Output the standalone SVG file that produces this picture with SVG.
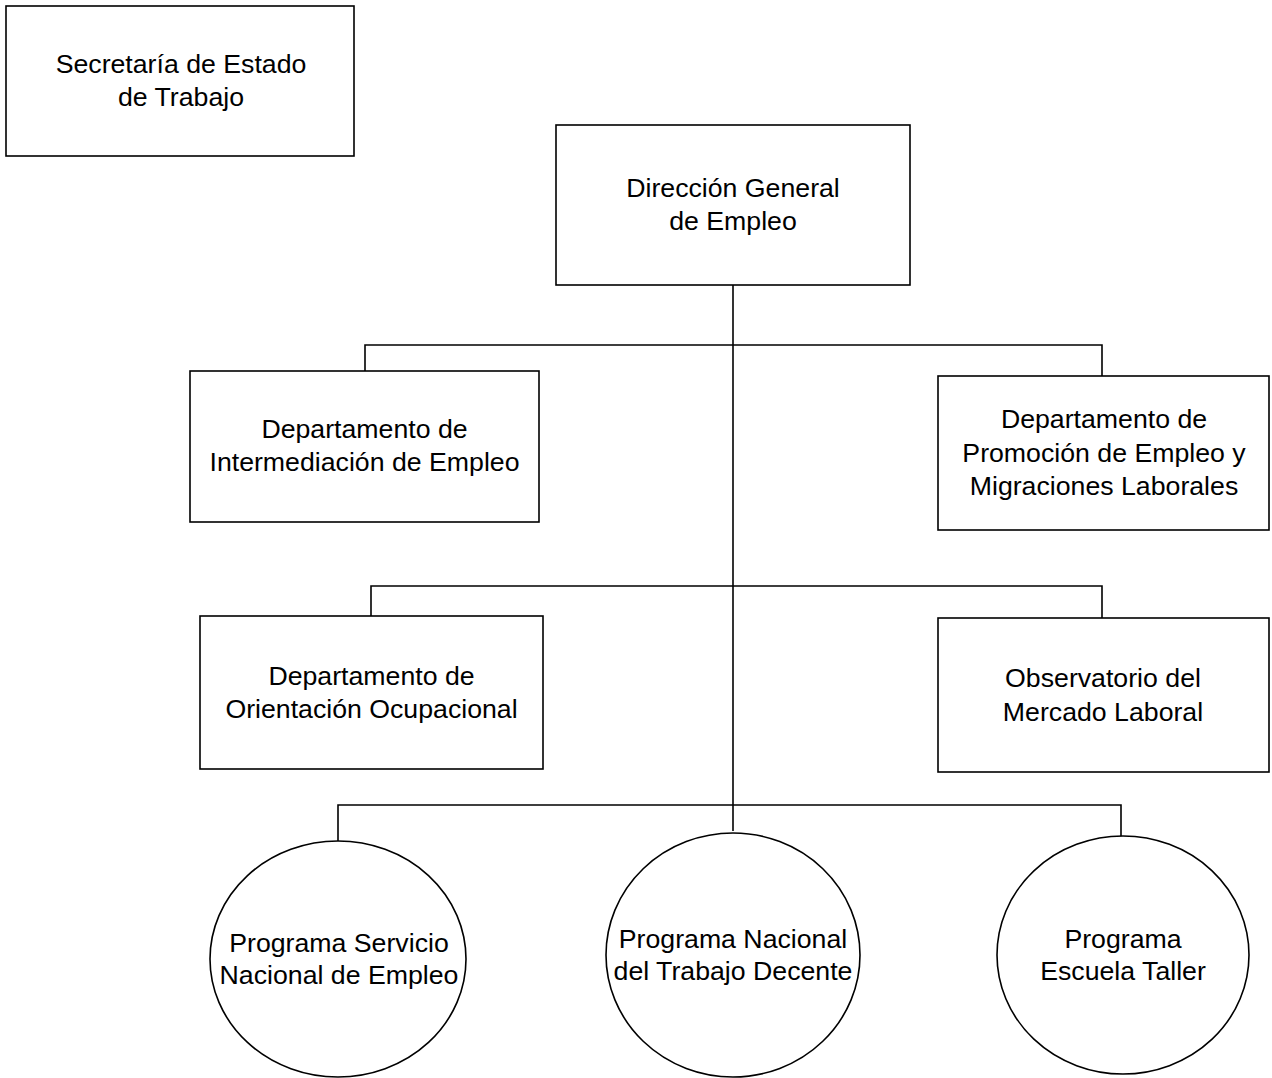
<svg xmlns="http://www.w3.org/2000/svg" width="1272" height="1078" viewBox="0 0 1272 1078">
<style>
.n{fill:#fff;stroke:#000;stroke-width:1.6}
.c{fill:none;stroke:#000;stroke-width:1.6}
text{font-family:"Liberation Sans",Arial,sans-serif;font-size:26.7px;fill:#000;text-anchor:middle}
</style>
<rect width="1272" height="1078" fill="#fff"/>
<g id="connectors">
<path class="c" d="M733 285V831"/>
<path class="c" d="M365 371V345H1102V376"/>
<path class="c" d="M371 616V586H1102V618"/>
<path class="c" d="M338 841V805H1121V836"/>
</g>
<g id="secretaria">
<rect class="n" x="6" y="6" width="348" height="150"/>
<text x="181" y="73">Secretaría de Estado</text>
<text x="181" y="106">de Trabajo</text>
</g>
<g id="direccion">
<rect class="n" x="556" y="125" width="354" height="160"/>
<text x="733" y="197">Dirección General</text>
<text x="733" y="230">de Empleo</text>
</g>
<g id="intermediacion">
<rect class="n" x="190" y="371" width="349" height="151"/>
<text x="364.5" y="438">Departamento de</text>
<text x="364.5" y="471">Intermediación de Empleo</text>
</g>
<g id="promocion">
<rect class="n" x="938" y="376" width="331" height="154"/>
<text x="1104" y="428">Departamento de</text>
<text x="1104" y="462">Promoción de Empleo y</text>
<text x="1104" y="495">Migraciones Laborales</text>
</g>
<g id="orientacion">
<rect class="n" x="200" y="616" width="343" height="153"/>
<text x="371.5" y="685">Departamento de</text>
<text x="371.5" y="718">Orientación Ocupacional</text>
</g>
<g id="observatorio">
<rect class="n" x="938" y="618" width="331" height="154"/>
<text x="1103" y="687">Observatorio del</text>
<text x="1103" y="721">Mercado Laboral</text>
</g>
<g id="servicio">
<ellipse class="n" cx="338" cy="959" rx="128" ry="118"/>
<text x="339" y="952">Programa Servicio</text>
<text x="339" y="984">Nacional de Empleo</text>
</g>
<g id="trabajo-decente">
<ellipse class="n" cx="733" cy="955" rx="127" ry="122"/>
<text x="733" y="948">Programa Nacional</text>
<text x="733" y="980">del Trabajo Decente</text>
</g>
<g id="escuela-taller">
<ellipse class="n" cx="1123" cy="955" rx="126" ry="119"/>
<text x="1123" y="948">Programa</text>
<text x="1123" y="980">Escuela Taller</text>
</g>
</svg>
